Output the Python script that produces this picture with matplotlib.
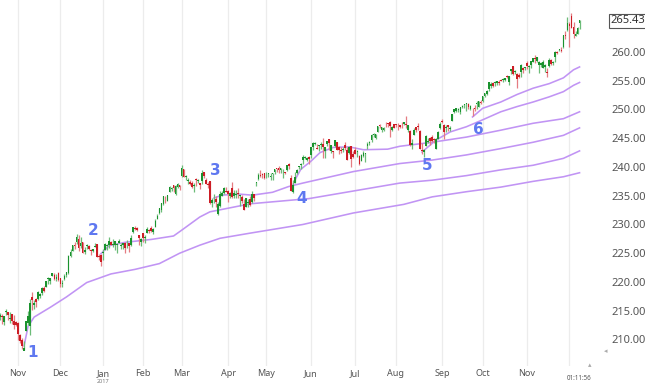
import matplotlib.pyplot as plt
import matplotlib.transforms as mtransforms
import numpy as np
import pandas as pd

plt.rcParams['font.family'] = ['Noto Sans', 'DejaVu Sans']

# trading days on the chart (Oct 19 2016 .. Dec 8 2017), exchange holidays removed
holidays = ['2016-11-24', '2016-12-26', '2017-01-02', '2017-01-16', '2017-02-20',
            '2017-04-14', '2017-05-29', '2017-07-04', '2017-09-04', '2017-11-23']
days = pd.bdate_range('2016-10-19', '2017-12-08')
days = days[~days.isin(pd.to_datetime(holidays))]

# daily candles, one row per month
opens = [
    213.9, 214.0, 213.1, 214.7, 214.7, 213.5, 214.4, 213.2, 213.1,
    212.9, 210.7, 209.9, 208.0, 211.5, 212.9, 212.4, 217.4, 216.0, 217.0, 217.0, 217.5, 218.0, 219.0, 219.2, 220.6, 220.1, 221.1, 221.2, 220.5, 221.6,
    220.7, 219.7, 220.6, 221.2, 221.5, 224.6, 225.4, 226.4, 227.0, 227.4, 226.2, 226.9, 225.3, 226.2, 226.3, 225.6, 225.4, 226.0, 226.6, 224.5, 224.7,
    225.0, 225.6, 226.3, 226.5, 226.9, 226.5, 226.4, 226.5, 226.7, 226.3, 226.5, 226.8, 226.7, 226.7, 226.4, 228.7, 229.4, 229.4, 228.2, 227.0,
    228.5, 227.6, 228.6, 229.0, 229.4, 228.7, 229.6, 231.0, 232.0, 232.6, 233.5, 234.8, 234.1, 235.7, 236.2, 236.9, 235.3, 236.5, 236.9,
    238.4, 239.6, 238.2, 237.5, 237.4, 237.2, 236.7, 237.9, 237.6, 237.2, 237.6, 239.1, 237.8, 237.0, 237.5, 233.8, 234.0, 234.4, 231.9, 233.3, 235.0, 235.5, 235.9,
    235.8, 235.0, 236.3, 234.9, 235.2, 235.4, 234.9, 234.8, 233.6, 233.1, 233.7, 234.5, 233.9, 235.3, 237.2, 237.9, 238.5, 238.8, 238.9,
    238.7, 238.8, 238.3, 238.8, 239.2, 239.8, 239.9, 239.4, 239.4, 239.1, 239.5, 240.6, 238.1, 235.7, 237.3, 238.9, 240.0, 240.3, 241.2, 241.5, 241.3, 241.8,
    242.0, 243.4, 244.0, 243.3, 243.6, 243.8, 244.0, 242.8, 244.0, 244.9, 242.7, 242.8, 243.6, 244.3, 243.4, 243.0, 242.9, 243.9, 243.0, 242.5, 243.7, 242.3,
    242.9, 242.6, 241.9, 241.0, 241.9, 242.2, 243.6, 244.2, 244.7, 245.5, 245.1, 246.1, 247.2, 246.4, 246.5, 247.5, 247.6, 247.9, 246.5, 247.4,
    247.5, 247.5, 247.3, 247.5, 247.5, 247.5, 246.5, 246.3, 243.9, 245.6, 247.0, 247.1, 246.3, 242.9, 242.6, 243.6, 244.3, 245.0, 245.2, 244.9, 243.2, 244.9, 246.7,
    247.9, 247.3, 246.8, 247.3, 246.6, 248.0, 249.6, 249.7, 249.9, 249.6, 250.5, 250.8, 250.9, 251.0, 250.1, 250.1, 250.3, 250.9, 250.5, 251.3,
    251.5, 252.4, 252.7, 253.5, 254.1, 254.6, 254.6, 254.6, 254.7, 255.1, 255.2, 255.2, 255.9, 254.8, 256.7, 257.5, 256.6, 256.2, 256.0, 256.5, 257.2, 257.2,
    258.0, 257.4, 257.8, 258.3, 259.0, 258.5, 257.7, 257.7, 257.3, 257.4, 256.6, 257.5, 258.6, 258.1, 259.2, 260.0, 260.3, 260.4, 260.8, 263.0, 263.8,
    264.8, 266.3, 264.4, 262.8, 263.2, 265.1,
]
highs = [
    214.6, 214.5, 214.0, 215.3, 214.8, 214.7, 214.5, 214.2, 213.2,
    213.0, 210.9, 210.3, 209.7, 213.2, 215.0, 217.0, 218.3, 216.8, 217.3, 218.4, 218.1, 219.1, 219.3, 220.2, 220.8, 220.7, 221.6, 221.5, 221.4, 221.8,
    220.7, 220.3, 221.4, 221.7, 224.7, 225.7, 226.5, 227.0, 228.3, 228.2, 227.8, 227.0, 226.0, 226.6, 226.4, 225.7, 225.7, 226.7, 226.6, 224.9, 224.8,
    225.8, 226.8, 226.6, 227.8, 227.1, 227.5, 227.1, 226.8, 227.4, 226.8, 226.8, 227.0, 227.3, 226.8, 228.1, 229.6, 229.7, 229.5, 228.2, 227.6,
    228.6, 228.1, 229.6, 229.3, 229.7, 229.4, 230.9, 231.8, 232.8, 233.7, 235.0, 235.0, 235.1, 236.7, 236.5, 236.9, 236.8, 237.3, 236.9,
    240.3, 239.6, 238.6, 238.0, 237.7, 237.5, 237.2, 238.0, 237.9, 237.2, 239.4, 239.2, 238.0, 237.4, 237.6, 234.6, 235.3, 235.0, 233.9, 235.8, 235.8, 236.5, 236.5,
    236.0, 235.6, 237.4, 236.0, 236.0, 236.3, 235.2, 235.2, 234.5, 234.6, 234.5, 235.0, 235.8, 235.3, 237.4, 239.0, 239.5, 239.0, 238.9,
    239.2, 239.0, 238.9, 238.9, 239.7, 239.9, 240.2, 239.9, 239.6, 239.2, 240.4, 240.7, 238.6, 237.8, 239.1, 239.7, 240.2, 240.7, 242.1, 241.9, 241.8, 241.9,
    243.4, 244.3, 244.3, 244.0, 243.9, 244.3, 245.0, 243.4, 244.6, 244.9, 243.9, 242.8, 244.7, 244.3, 243.6, 243.5, 243.5, 244.4, 243.4, 243.7, 243.7, 242.7,
    243.4, 243.0, 242.0, 242.3, 242.8, 242.5, 244.3, 244.6, 245.8, 245.9, 245.7, 247.2, 247.5, 246.9, 247.0, 247.9, 247.7, 248.0, 247.2, 247.5,
    247.5, 247.6, 247.3, 247.8, 247.9, 248.9, 247.3, 246.4, 244.8, 246.8, 247.0, 247.6, 246.4, 244.2, 243.2, 245.6, 245.0, 245.2, 245.6, 245.0, 245.0, 246.2, 247.8,
    248.3, 247.5, 247.3, 247.3, 247.1, 249.3, 250.1, 250.2, 250.3, 250.4, 250.8, 251.0, 251.2, 251.1, 250.7, 250.3, 250.7, 251.4, 251.5, 251.6,
    252.3, 252.9, 253.4, 254.7, 254.7, 254.7, 254.9, 255.0, 255.1, 255.3, 255.5, 255.5, 256.0, 255.8, 257.1, 257.5, 256.8, 256.3, 256.3, 257.9, 257.4, 257.4,
    258.4, 257.8, 258.5, 259.0, 259.4, 259.2, 258.4, 258.3, 258.6, 257.9, 257.2, 259.0, 258.8, 258.5, 260.2, 260.2, 260.5, 260.8, 262.9, 263.6, 266.0,
    265.3, 266.8, 265.2, 263.6, 264.3, 265.5,
]
lows = [
    213.4, 212.7, 212.5, 214.2, 213.4, 212.9, 212.7, 211.9, 212.3,
    209.9, 209.4, 208.4, 208.2, 211.4, 212.5, 210.8, 215.2, 215.3, 215.7, 216.8, 217.2, 217.8, 218.2, 219.1, 219.7, 219.6, 221.0, 220.4, 220.2, 220.2,
    219.2, 219.1, 220.4, 220.8, 221.4, 224.3, 225.4, 225.8, 226.6, 225.4, 225.9, 225.0, 224.9, 225.8, 225.5, 224.7, 225.2, 226.0, 224.3, 223.8, 222.7,
    223.9, 225.6, 225.5, 225.9, 226.4, 226.0, 225.6, 225.0, 226.7, 225.8, 225.8, 225.1, 225.9, 225.3, 226.2, 228.5, 229.0, 228.8, 226.4, 226.3,
    226.9, 226.8, 228.5, 228.5, 228.7, 228.3, 229.6, 231.0, 231.9, 232.2, 233.4, 233.7, 234.0, 235.6, 235.9, 235.6, 235.1, 236.3, 236.0,
    238.3, 238.2, 237.8, 237.1, 236.8, 236.4, 235.7, 236.7, 237.2, 236.2, 237.1, 238.1, 237.0, 236.3, 233.6, 233.1, 233.7, 233.1, 231.6, 233.1, 234.9, 235.3, 235.7,
    233.9, 234.6, 234.6, 234.6, 234.6, 234.6, 233.3, 233.8, 232.5, 233.0, 233.1, 233.2, 233.8, 234.1, 236.7, 237.8, 238.3, 238.0, 237.9,
    238.0, 238.3, 237.7, 237.8, 238.7, 239.2, 239.0, 239.0, 238.1, 238.7, 239.3, 239.6, 235.8, 235.4, 237.2, 238.8, 239.6, 239.6, 240.6, 241.4, 241.0, 240.6,
    241.6, 243.0, 243.8, 243.1, 242.8, 243.2, 241.5, 241.6, 243.6, 243.0, 242.4, 241.6, 243.5, 243.0, 242.3, 242.4, 242.6, 242.9, 241.3, 242.2, 240.0, 241.6,
    242.2, 241.7, 240.3, 241.0, 241.8, 240.9, 243.2, 243.8, 244.3, 245.3, 244.8, 246.0, 246.7, 246.1, 246.2, 247.0, 247.0, 245.3, 246.2, 246.7,
    247.0, 246.4, 246.7, 246.7, 247.3, 246.8, 246.1, 243.7, 243.2, 245.5, 246.0, 246.4, 243.1, 242.2, 241.8, 243.6, 244.2, 243.8, 244.4, 244.1, 243.1, 244.8, 246.6,
    247.7, 244.9, 246.0, 246.3, 246.3, 248.0, 249.4, 249.6, 249.6, 249.2, 250.2, 250.3, 249.8, 250.1, 249.9, 248.9, 249.7, 250.0, 250.4, 250.9,
    251.3, 252.2, 252.6, 253.2, 253.8, 253.9, 254.0, 254.3, 254.3, 254.9, 254.8, 255.0, 255.5, 254.3, 256.1, 256.0, 256.2, 253.8, 255.5, 255.6, 256.4, 256.8,
    257.0, 256.4, 257.3, 258.2, 258.1, 258.2, 256.4, 257.4, 257.3, 256.5, 255.6, 257.4, 257.7, 257.8, 258.3, 259.6, 260.2, 260.0, 260.7, 262.2, 263.7,
    260.8, 264.1, 262.4, 262.7, 263.1, 264.0,
]
closes = [
    214.3, 213.9, 214.0, 214.9, 214.2, 213.7, 213.2, 212.5, 212.6,
    211.0, 209.7, 208.8, 208.6, 213.2, 214.1, 216.4, 216.9, 216.4, 216.6, 218.3, 217.9, 219.0, 218.5, 220.2, 220.6, 220.7, 221.5, 220.5, 220.9, 220.4,
    219.6, 219.7, 221.0, 221.7, 224.6, 225.2, 226.5, 226.3, 227.8, 225.9, 226.8, 225.0, 225.5, 226.4, 225.8, 225.4, 225.7, 226.3, 224.4, 224.4, 223.5,
    225.2, 226.6, 226.4, 227.2, 226.5, 226.5, 227.1, 226.5, 227.1, 226.3, 226.8, 225.9, 226.7, 226.2, 227.6, 229.6, 229.3, 229.0, 227.6, 227.5,
    227.6, 227.8, 229.3, 228.9, 228.9, 229.2, 230.6, 231.5, 232.8, 233.7, 234.9, 234.7, 235.1, 236.5, 236.3, 236.4, 236.7, 237.1, 236.5,
    239.8, 238.3, 238.4, 237.7, 237.0, 236.6, 236.9, 237.7, 237.8, 236.9, 239.0, 238.5, 237.0, 236.8, 233.7, 234.3, 234.0, 233.9, 233.6, 235.3, 235.5, 236.3, 235.7,
    235.3, 235.5, 234.8, 235.4, 235.2, 235.3, 235.1, 234.0, 232.5, 234.6, 233.9, 233.4, 235.3, 234.6, 237.2, 238.6, 238.4, 238.6, 238.1,
    238.7, 238.8, 238.5, 238.8, 239.7, 239.7, 239.4, 239.9, 239.4, 239.0, 240.3, 240.1, 235.8, 236.8, 238.3, 239.5, 240.1, 240.6, 241.8, 241.7, 241.5, 241.4,
    243.4, 244.2, 244.0, 243.2, 243.7, 243.8, 243.4, 243.4, 244.6, 244.2, 243.8, 242.6, 244.7, 243.0, 243.0, 242.8, 243.1, 243.3, 241.3, 243.5, 241.4, 241.8,
    242.2, 242.8, 240.6, 242.1, 242.4, 242.2, 244.0, 244.4, 245.6, 245.5, 245.7, 247.1, 247.1, 246.9, 246.8, 247.4, 247.4, 247.2, 246.9, 246.8,
    247.3, 247.4, 247.0, 247.4, 247.9, 247.3, 247.3, 243.8, 244.1, 246.5, 246.5, 246.9, 243.1, 242.7, 242.9, 245.4, 244.6, 244.6, 244.6, 244.7, 244.9, 246.0, 247.5,
    247.8, 246.1, 246.9, 246.9, 246.6, 249.2, 250.1, 250.2, 250.1, 250.4, 250.6, 250.9, 251.2, 250.5, 250.6, 250.0, 250.0, 251.0, 251.4, 251.2,
    252.3, 252.9, 253.2, 254.7, 254.4, 254.0, 254.6, 255.0, 254.6, 255.0, 255.3, 255.5, 255.7, 255.8, 257.1, 256.1, 256.6, 255.3, 255.6, 257.7, 256.8, 257.2,
    257.5, 257.6, 258.5, 258.9, 258.7, 259.1, 258.2, 258.1, 258.3, 257.7, 256.4, 258.6, 257.9, 258.3, 260.0, 259.8, 260.4, 260.2, 262.9, 262.7, 265.0,
    264.5, 264.1, 263.2, 263.2, 264.1, 265.5,
]
last_price = 265.43

# anchored lines: (trading-day index, price)
avwap_1 = [(12, 208.9), (14, 212.3), (17, 213.9), (25, 215.6), (33, 217.4), (37, 218.4),
           (43, 219.9), (55, 221.4), (67, 222.2), (79, 223.2), (89, 225.0), (99, 226.4),
           (109, 227.6), (124, 228.5), (150, 230.0), (175, 232.0), (200, 233.5), (214, 234.8),
           (231, 235.7), (248, 236.5), (264, 237.5), (279, 238.3), (287, 239.0)]
avwap_2 = [(50, 224.9), (54, 226.3), (62, 226.9), (75, 227.4), (86, 228.0), (90, 229.0),
           (99, 231.3), (104, 232.2), (124, 233.6), (153, 234.5), (178, 236.0), (198, 237.2),
           (214, 237.7), (231, 238.5), (248, 239.5), (264, 240.3), (279, 241.5), (287, 242.8)]
avwap_3 = [(106, 234.6), (110, 235.1), (118, 235.3), (125, 235.1), (135, 235.6), (143, 236.6),
           (150, 237.2), (160, 238.0), (175, 239.2), (198, 240.6), (214, 241.2), (231, 242.1),
           (248, 243.2), (264, 244.3), (279, 245.5), (287, 246.8)]
avwap_4 = [(144, 236.0), (146.5, 238.0), (149, 239.6), (154, 241.0), (158.5, 242.5), (165, 243.4),
           (173, 243.5), (180, 243.0), (192, 243.1), (198, 243.6), (214, 244.3), (231, 245.2),
           (248, 246.4), (264, 247.6), (279, 248.4), (287, 249.6)]
avwap_5 = [(209, 242.6), (216, 244.7), (223, 246.1), (231, 247.0), (239, 248.2), (248, 249.6),
           (256, 250.5), (264, 251.3), (272, 252.2), (279, 253.1), (284, 254.2), (287, 254.7)]
avwap_6 = [(234, 248.7), (239, 250.2), (248, 251.3), (256, 252.6), (264, 253.7), (272, 254.5),
           (279, 255.5), (284, 256.9), (287, 257.4)]

anchor_labels = ['1', '2', '3', '4', '5', '6']
label_pos = [(16.4, 207.8), (46.1, 229.0), (106.5, 239.4), (149.6, 234.5), (211.5, 240.2), (236.7, 246.6)]

assert len(days) == len(opens) == len(highs) == len(lows) == len(closes)

o, h, l, c = map(np.array, (opens, highs, lows, closes))
x = np.arange(len(days))
up = c >= o
body_col = np.where(up, '#1a922e', '#cc1d25')
wick_col = np.where(up, '#6cbc78', '#e57c82')

fig = plt.figure(figsize=(6.45, 3.84), dpi=100)
ax = fig.add_axes([0, 1 - 366 / 384, 603 / 645, 366 / 384])

# month grid
month_idx = [i for i in range(len(days)) if i == 0 or days[i].month != days[i - 1].month][1:]
month_lab = [days[i].strftime('%b') for i in month_idx]
month_lab[-1] = ''
ax.set_xticks(month_idx)
ax.set_xticklabels(month_lab, fontsize=6.5, color='#555555')
ax.grid(axis='x', color='#ececec', linewidth=0.9)
ax.set_axisbelow(True)

for line in (avwap_1, avwap_2, avwap_3, avwap_4, avwap_5, avwap_6):
    xs, ys = zip(*line)
    ax.plot(xs, ys, color='#c194f4', linewidth=1.15, zorder=2)

ax.vlines(x, l, h, colors=wick_col, linewidth=0.9, zorder=3)
ax.bar(x, np.maximum(np.abs(c - o), 0.15), bottom=np.minimum(o, c), width=0.85,
       color=body_col, linewidth=0, zorder=4)

for txt, (px, py) in zip(anchor_labels, label_pos):
    ax.text(px, py, txt, color='#5f78f0', fontsize=11, fontweight='bold', family='DejaVu Sans',
            ha='center', va='center', zorder=5)

ax.set_xlim(0.09, 298.6)
ax.set_ylim(205.39, 269.04)

ax.yaxis.tick_right()
ax.set_yticks(np.arange(210, 261, 5))
ax.set_yticklabels([f'{v:.2f}' for v in np.arange(210, 261, 5)], fontsize=8, color='#555555')
ax.tick_params(axis='y', length=0, pad=6)
ax.tick_params(axis='x', length=0, pad=2)
for s in ax.spines.values():
    s.set_visible(False)

trans = mtransforms.blended_transform_factory(ax.transAxes, ax.transData)
ax.text(1.012, last_price, f'{last_price:.2f}', transform=trans, fontsize=8, color='#333333',
        ha='left', va='center',
        bbox=dict(boxstyle='square,pad=0.15', fc='white', ec='#555555', lw=0.8))

# year under the January tick, and the small countdown/controls at the bottom right
fig.text(103 / 645, 0.0, '2017', fontsize=4, color='#777777', ha='center', va='bottom')
fig.text(579 / 645, 1 - 378 / 384, '01:11:56', fontsize=4.5, color='#555555', ha='center', va='center')
fig.text(590 / 645, 1 - 366 / 384, '\u25b4', fontsize=5, color='#aaaaaa', ha='center', va='center')
fig.text(606 / 645, 1 - 352 / 384, '\u25c2', fontsize=5, color='#aaaaaa', ha='center', va='center')

fig.savefig('out.png', dpi=100)
